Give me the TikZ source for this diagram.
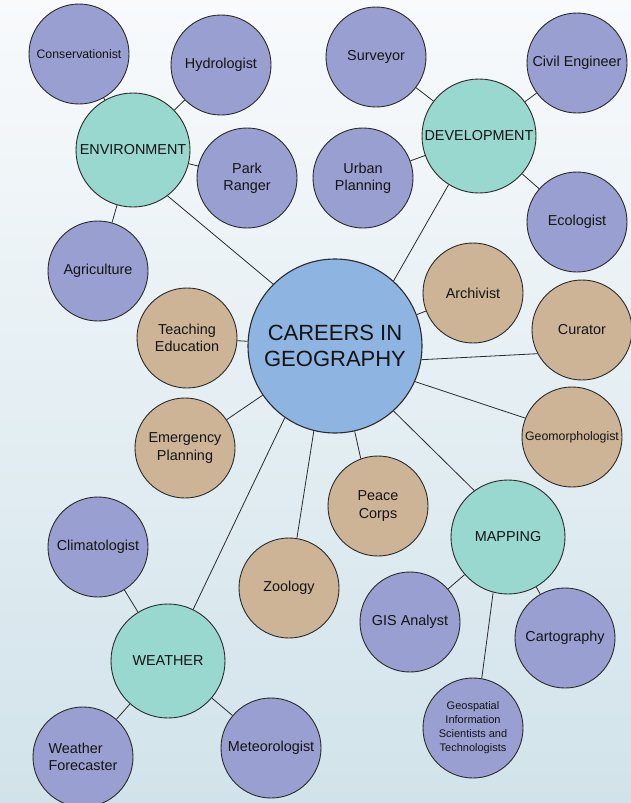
\documentclass[tikz,border=0pt]{standalone}
\usepackage{fontspec}
\setmainfont{Liberation Sans}
\definecolor{satc}{HTML}{9A9FD1}
\definecolor{hubc}{HTML}{99D8CF}
\definecolor{tanc}{HTML}{CDB497}
\definecolor{corec}{HTML}{8EB4E1}
\definecolor{edgec}{HTML}{2B2B2B}
\definecolor{bgtop}{HTML}{F8FAFC}
\definecolor{bgbot}{HTML}{D1E3EA}
\begin{document}
\begin{tikzpicture}[x=1pt,y=-1pt,
 base/.style={circle,draw=edgec,line width=0.9pt,inner sep=0pt,align=center,text=black!92,font=\fontsize{14.4}{17.3}\selectfont},
 sat/.style={base,fill=satc,minimum size=100pt},
 hub/.style={base,fill=hubc,minimum size=114pt},
 tann/.style={base,fill=tanc,minimum size=100pt},
 corenode/.style={base,fill=corec,minimum size=174pt,line width=1.1pt,font=\fontsize{22}{26}\selectfont},
 link/.style={draw=edgec,line width=0.8pt}]
\shade[top color=bgtop,bottom color=bgbot] (0,0) rectangle (631,803);
\useasboundingbox (0,0) rectangle (631,803);

\node[corenode] (main) at (335,346) {CAREERS IN\\GEOGRAPHY};

\node[hub] (env) at (133,150) {ENVIRONMENT};
\node[sat,font=\fontsize{12.3}{15}\selectfont] (cons) at (79,54) {Conservationist};
\node[sat] (hyd) at (221,65) {Hydrologist};
\node[sat] (park) at (247,178) {Park\\Ranger};
\node[sat] (agr) at (98,271) {Agriculture};

\node[hub] (dev) at (479,136) {DEVELOPMENT};
\node[sat] (sur) at (376,57) {Surveyor};
\node[sat] (civ) at (577,63) {Civil Engineer};
\node[sat] (urb) at (363,178) {Urban\\Planning};
\node[sat] (eco) at (577,222) {Ecologist};

\node[tann] (arc) at (473,293) {Archivist};
\node[tann] (cur) at (582,330) {Curator};
\node[tann,font=\fontsize{12.3}{15}\selectfont] (geo) at (572,437) {Geomorphologist};
\node[tann] (tea) at (187,338) {Teaching\\Education};
\node[tann] (eme) at (185,448) {Emergency\\Planning};
\node[tann] (pea) at (378,506) {Peace\\Corps};
\node[tann] (zoo) at (289,588) {Zoology};

\node[hub] (map) at (508,537) {MAPPING};
\node[sat] (gis) at (410,622) {GIS Analyst};
\node[sat] (cart) at (565,638) {Cartography};
\node[sat,font=\fontsize{11}{14}\selectfont] (gsp) at (473,728) {Geospatial\\Information\\Scientists and\\Technologists};

\node[hub] (wea) at (168,661) {WEATHER};
\node[sat] (cli) at (98,547) {Climatologist};
\node[sat,align=left] (wfc) at (83,757) {Weather\\Forecaster};
\node[sat] (met) at (271,748) {Meteorologist};

\draw[link] (env) -- (cons);
\draw[link] (env) -- (hyd);
\draw[link] (env) -- (park);
\draw[link] (env) -- (agr);
\draw[link] (dev) -- (sur);
\draw[link] (dev) -- (civ);
\draw[link] (dev) -- (urb);
\draw[link] (dev) -- (eco);
\draw[link] (env.-53) -- (main.135.5);
\draw[link] (dev.-122) -- (main.48.6);
\draw[link] (main) -- (arc);
\draw[link] (main.-9.7) -- (cur.-152);
\draw[link] (main.-24.5) -- (geo.158);
\draw[link] (main) -- (tea);
\draw[link] (main) -- (eme);
\draw[link] (main.-125.8) -- (wea.64.7);
\draw[link] (main.-104.7) -- (zoo.81);
\draw[link] (main.-77.5) -- (pea.110);
\draw[link] (main.-48.6) -- (map.126.7);
\draw[link] (map) -- (gis);
\draw[link] (map) -- (cart);
\draw[link] (map.-105) -- (gsp.80);
\draw[link] (wea) -- (cli);
\draw[link] (wea) -- (wfc);
\draw[link] (wea) -- (met);
\end{tikzpicture}
\end{document}
